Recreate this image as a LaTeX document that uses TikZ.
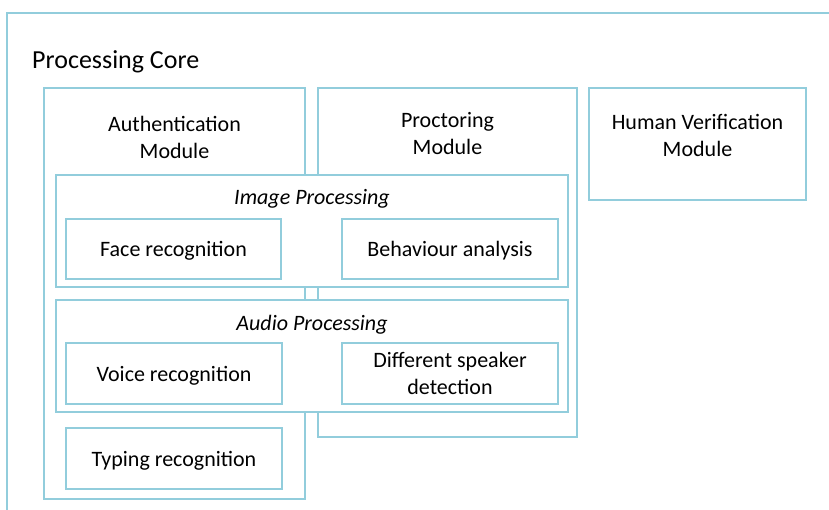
\documentclass[tikz,border=0pt]{standalone}
\usepackage{fontspec}
\setmainfont{Carlito}
\definecolor{frameblue}{RGB}{146,205,220}

\begin{document}
\begin{tikzpicture}[x=1pt, y=-1pt,
    box/.style={draw=frameblue, fill=white, line width=1.4pt, inner sep=0pt},
    txt/.style={font=\fontsize{22}{27}\selectfont, align=center, inner sep=0pt},
    unit/.style={box, txt, minimum width=216pt, minimum height=61pt, text height=16pt, text depth=0pt}]
        \useasboundingbox (0,0) rectangle (829,510);
        \clip (0,0) rectangle (829,510);

        % outer frame runs off the page
        \draw[frameblue, line width=1.4pt] (7,13) rectangle (860,540);
        \node[anchor=base west, inner sep=0pt, font=\fontsize{26}{31}\selectfont] (core) at (32,68.3) {Processing Core};

        % modules
        \node[box, minimum width=261pt, minimum height=411pt] (auth) at (174.5,293.5) {};
        \node[box, minimum width=259pt, minimum height=349pt] (proc) at (447.5,262.5) {};
        \node[box, minimum width=217pt, minimum height=112pt] (human) at (697.5,144) {};
        \node[txt, anchor=north] (authlbl) at (174.5,116) {Authentication\\Module};
        \node[txt, anchor=north] (proclbl) at (447.5,112) {Proctoring\\Module};
        \node[txt, anchor=north] (humanlbl) at (697.5,114) {Human Verification\\Module};

        % shared processing blocks
        \node[box, minimum width=512pt, minimum height=112pt] (image) at (312,231) {};
        \node[box, minimum width=512pt, minimum height=112pt] (audio) at (312,356) {};
        \node[txt, anchor=base, font=\fontsize{22}{27}\selectfont\itshape] (imagelbl) at (312,204.3) {Image Processing};
        \node[txt, anchor=base, font=\fontsize{22}{27}\selectfont\itshape] (audiolbl) at (312,330.7) {Audio Processing};

        \node[unit, minimum width=215pt, minimum height=60pt] (face) at (173.5,249) {Face recognition};
        \node[unit, minimum height=60pt] (behav) at (450,249) {Behaviour analysis};
        \node[unit] (voice) at (174,373.5) {Voice recognition};
        \node[box, txt, minimum width=216pt, minimum height=61pt] (speaker) at (450,373.5) {Different speaker\\detection};
        \node[unit] (typing) at (174,458.5) {Typing recognition};
      \end{tikzpicture}
\end{document}
